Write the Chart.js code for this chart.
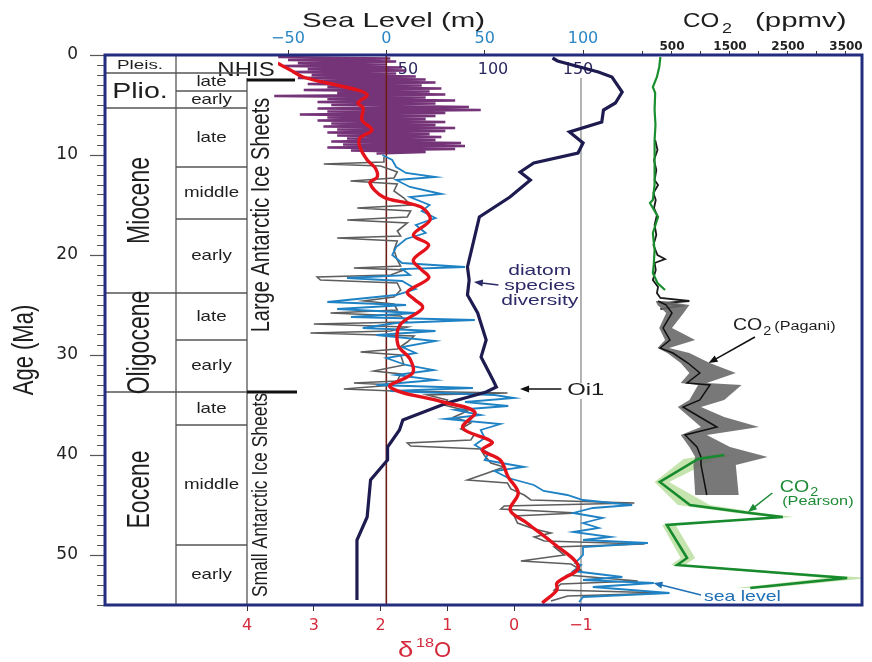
<!DOCTYPE html>
<html>
<head>
<meta charset="utf-8">
<script src="https://cdn.jsdelivr.net/npm/chart.js@4.4.1/dist/chart.umd.min.js"></script>
<style>
    html, body { margin: 0; padding: 0; background: #fff; }
    #wrap { width: 872px; height: 662px; }
</style>
</head>
<body>
<div id="wrap"><canvas id="chartCenozoic" width="872" height="662"></canvas></div>
<script>
// ---- data (age in Ma) ----
var d18Age = [0.5, 0.8, 1.5, 2.2, 2.8, 3.5, 4.0, 4.8, 5.3, 6.5, 7.5, 8.3, 9.2, 10.5, 11.3, 12.2, 12.8, 14.2, 14.8, 15.3,
    16.5, 18.0, 19.0, 20.5, 21.4, 22.3, 23.7, 24.4, 25.3, 27.0, 29.0, 30.4, 31.8, 33.2, 34.7, 35.7, 37.3, 38.7, 39.5, 40.5,
    42.2, 43.8, 45.5, 46.8, 48.8, 51.2, 52.8, 53.5, 54.8];
var d18Smooth = [3.65, 3.55, 3.35, 3.16, 2.80, 2.35, 2.20, 2.34, 2.26, 2.28, 2.13, 2.31, 2.31, 2.20, 2.08, 2.05, 2.16, 1.96, 1.60, 1.37,
    1.26, 1.51, 1.28, 1.51, 1.40, 1.28, 1.60, 1.50, 1.37, 1.71, 1.74, 1.56, 1.52, 1.86, 1.07, 0.59, 0.77, 0.33, 0.48, 0.21,
    0.09, -0.06, 0.06, -0.19, -0.58, -0.96, -0.64, -0.64, -0.42];

var rawAge = [10.2, 10.7, 10.9, 11.1, 11.7, 12.3, 12.6, 12.9, 13.6, 14.3, 15.0, 15.3, 15.6, 16.2, 16.5, 16.8, 17.6, 18.1, 18.3, 18.6,
    19.5, 20.5, 21.1, 21.3, 21.5, 22.0, 22.2, 22.5, 22.8, 23.5, 24.2, 24.6, 24.9, 25.5, 25.8, 26.1, 26.7, 26.9, 27.2, 27.6,
    27.8, 28.1, 28.7, 29.4, 29.7, 30.0, 31.0, 31.6, 31.9, 32.6, 32.8, 33.0, 33.4, 33.6, 33.8, 34.0, 34.5, 35.0, 35.6, 36.2,
    36.8, 37.4, 38.0, 38.5, 38.8, 39.1, 39.4, 40.0, 40.8, 41.2, 41.8, 42.5, 42.8, 43.4, 44.0, 44.5, 44.8, 45.1, 45.4, 45.8,
    46.1, 46.8, 47.4, 47.8, 48.2, 48.6, 48.9, 49.2, 50.0, 50.6, 50.9, 51.5, 52.0, 52.6, 52.9, 53.5, 53.8, 54.1, 54.6];
var rawD18 = [1.95, 1.95, 2.85, 2.00, 1.75, 1.80, 2.45, 1.75, 1.80, 1.65, 1.55, 2.35, 1.55, 1.60, 2.50, 1.60, 1.75, 1.70, 2.65, 1.75,
    1.80, 1.75, 1.70, 2.40, 1.65, 1.85, 2.95, 2.90, 1.75, 1.70, 1.80, 2.25, 1.80, 1.75, 2.75, 1.70, 1.60, 3.00, 1.60, 1.85,
    3.05, 1.50, 1.60, 1.75, 2.30, 1.70, 1.65, 2.10, 1.70, 1.75, 2.40, 1.80, 2.55, 1.80, 0.10, 1.30, 1.00, 1.05, 0.70, 0.90,
    0.65, 0.80, 0.60, 0.65, 1.60, 1.55, 0.50, 0.45, 0.35, 0.15, 0.40, 0.70, 0.10, 0.05, -0.15, -0.25, -1.80, 0.15, 0.20, -0.95,
    0.00, -0.05, -0.30, -0.55, -0.30, -0.45, -1.95, -0.60, -0.75, -0.10, -0.85, -1.00, -0.80, -1.85, -0.70, -0.60, -2.30, -0.80, -0.55];

var seaAge = [10.0, 10.5, 11.2, 11.8, 12.2, 12.5, 13.2, 13.9, 14.2, 15.0, 15.6, 16.3, 17.0, 17.8, 18.4, 19.2, 20.0, 20.8, 21.2, 21.4,
    22.0, 22.3, 22.6, 23.4, 24.0, 24.7, 25.0, 25.4, 25.8, 26.2, 26.5, 26.8, 27.3, 27.6, 28.0, 28.6, 29.2, 29.8, 30.3, 31.0,
    31.5, 32.0, 32.5, 33.0, 33.3, 33.6, 34.0, 34.3, 34.7, 35.1, 35.5, 36.0, 36.4, 36.9, 37.5, 38.3, 39.0, 39.8, 40.5, 41.2,
    41.6, 42.3, 43.0, 43.6, 44.0, 44.5, 45.0, 45.3, 45.8, 46.3, 46.8, 47.3, 47.7, 48.2, 48.5, 48.8, 49.2, 50.0, 50.8, 51.0,
    51.6, 52.2, 52.5, 52.8, 53.2, 53.8, 54.2, 54.7];
var seaLevel = [-2, 3, 5, 10, 25, 5, 12, 28, 12, 22, 18, 25, 15, 20, 10, 5, 3, 8, 40, 8,
    12, -20, 8, 15, 5, -30, 10, -25, 15, -18, 45, 5, -12, 25, -5, 25, 8, 15, 0, 10,
    24, 5, 25, -5, 44, 2, 55, 65, 40, 62, 35, 48, 30, 58, 48, 50, 45, 52, 50, 70,
    55, 62, 75, 80, 92, 100, 125, 105, 95, 110, 100, 108, 95, 114, 100, 133, 100, 100, 96, 99,
    95, 120, 100, 136, 105, 144, 100, 98];

var purpleAge = [0.2, 0.35, 0.5, 0.65, 0.8, 0.95, 1.1, 1.25, 1.4, 1.55, 1.7, 1.85, 2.0, 2.15, 2.3, 2.45, 2.6, 2.75, 2.9, 3.05,
    3.2, 3.35, 3.5, 3.65, 3.8, 3.95, 4.1, 4.25, 4.4, 4.55, 4.7, 4.85, 5.0, 5.2, 5.35, 5.5, 5.65, 5.8, 5.95, 6.1,
    6.25, 6.4, 6.55, 6.7, 6.85, 7.0, 7.15, 7.3, 7.45, 7.6, 7.75, 7.9, 8.05, 8.2, 8.35, 8.5, 8.65, 8.8, 8.95, 9.1,
    9.25, 9.4, 9.55, 9.7, 9.85];
var purpleLevel = [-55, 2, -50, 5, -45, 0, -52, 8, -40, 10, -48, 5, -38, 15, -45, 20, -35, 25, -40, 18,
    -30, 28, -42, 22, -25, 30, -57, 20, -30, 35, -35, 25, -28, 42, -35, 48, -30, 30, -44, 25,
    -30, 20, -35, 30, -28, 25, -32, 35, -25, 30, -30, 22, -25, 28, -20, 25, -28, 38, -22, 40,
    -30, 35, -18, 20, -5];

var diatomAge = [0.3, 0.6, 1.7, 2.2, 3.7, 4.8, 5.5, 6.7, 7.7, 8.8, 9.8, 10.8, 11.7, 12.5, 14.2, 16.2, 21.2, 22.5, 24.0, 25.8,
    28.5, 30.2, 32.5, 33.2, 33.7, 34.8, 36.5, 37.5, 39.2, 40.5, 42.5, 46.2, 48.5, 54.5];
var diatomCount = [135, 138, 162, 170, 176, 172, 165, 164, 145, 153, 150, 124, 116, 122, 110, 92, 85, 86, 85, 91,
    96, 93, 100, 102, 96, 73, 47, 45, 38, 38, 28, 26, 20, 20];

var paganiAge = [24.6, 25.0, 25.8, 27.3, 28.5, 29.3, 29.8, 30.8, 31.8, 32.8, 33.0, 34.5, 35.2, 36.2, 37.2, 38.0, 39.2, 40.2, 41.0, 44.0];
var paganiCO2 = [260, 400, 500, 345, 465, 295, 515, 775, 980, 760, 1155, 980, 690, 980, 1275, 725, 930, 1000, 1000, 1100];
var paganiHigh = [350, 800, 700, 500, 900, 450, 800, 1150, 1600, 1100, 1700, 1400, 1000, 1400, 2000, 1100, 1500, 2150, 1600, 1650];
var paganiLow = [220, 250, 400, 280, 380, 250, 420, 650, 800, 650, 950, 800, 600, 800, 1000, 650, 800, 900, 870, 900];

var pearsonAge = [40.0, 40.4, 42.7, 45.0, 45.8, 46.2, 47.0, 50.3, 51.0, 52.3, 53.3];
var pearsonCO2 = [1400, 950, 290, 810, 1840, 2410, 410, 760, 590, 3520, 1850];
var pearsonHigh = [1650, 1250, 450, 1150, 2050, 2600, 560, 900, 720, 3900, 2150];
var pearsonLow = [1150, 700, 200, 600, 1600, 2250, 330, 650, 480, 3150, 1600];

var recentAge = [0.2, 1.2, 2.2, 3.2, 3.8, 5.5, 7.0, 8.5, 10.0, 11.5, 13.0, 14.5, 14.8, 16.2, 17.8, 19.5, 21.0, 21.8, 22.8, 23.5];
var recentCO2 = [300, 280, 240, 170, 210, 200, 215, 200, 205, 190, 205, 170, 120, 260, 170, 200, 185, 170, 250, 380];
var noiseAge = [8.5, 9.5, 10.5, 11.5, 12.5, 13.0, 13.8, 14.5, 15.3, 16.0, 17.0, 18.0, 19.0, 20.0, 20.4, 20.8, 21.5, 22.5, 23.2, 23.8,
    24.3, 24.6, 24.8, 25.1, 25.4];
var noiseCO2 = [210, 250, 190, 230, 200, 260, 180, 220, 190, 240, 200, 230, 180, 250, 380, 200, 220, 170, 260, 240,
    300, 800, 350, 650, 300];

var refLineAge = [0, 55];
var dashLineAge = [2.3, 32.8, 33.5, 34.4, 55];

// ---- ticks / timescale ----
var d18Ticks = [4, 3, 2, 1, 0, -1];
var seaTicks = [-50, 0, 50, 100];
var diatomTicks = [50, 100, 150];
var co2Ticks = [0, 500, 1000, 1500, 2000, 2500, 3000, 3500];
var co2Labels = [500, 1500, 2500, 3500];

var epochNames = ['Pleis.', 'Plio.', 'Miocene', 'Oligocene', 'Eocene'];
var epochTop = [0, 1.8, 5.3, 23.8, 33.7];
var epochBase = [1.8, 5.3, 23.8, 33.7, 55];
var stageNames = ['late', 'early', 'late', 'middle', 'early', 'late', 'early', 'late', 'middle', 'early'];
var stageTop = [1.8, 3.6, 5.3, 11.2, 16.4, 23.8, 28.5, 33.7, 37.0, 49.0];
var stageBase = [3.6, 5.3, 11.2, 16.4, 23.8, 28.5, 33.7, 37.0, 49.0, 55];

var SANS = '"Liberation Sans", Arial, sans-serif';

function pts(ages, vals) {
    return ages.map(function (a, i) { return { x: vals[i], y: a }; });
}

function drawText(ctx, str, x, y, o) {
    ctx.save();
    ctx.font = o.font;
    ctx.fillStyle = o.color || '#1e1e1e';
    ctx.textAlign = o.align || 'center';
    ctx.textBaseline = o.base || 'middle';
    ctx.translate(x, y);
    if (o.rot) {
        ctx.rotate(o.rot);
        ctx.scale(1, o.sx || 1);
    } else {
        ctx.scale(o.sx || 1, 1);
    }
    ctx.fillText(str, 0, 0);
    ctx.restore();
}

function arrow(ctx, x1, y1, x2, y2, color) {
    var ang = Math.atan2(y2 - y1, x2 - x1);
    ctx.save();
    ctx.strokeStyle = color;
    ctx.fillStyle = color;
    ctx.lineWidth = 1.5;
    ctx.beginPath();
    ctx.moveTo(x1, y1);
    ctx.lineTo(x2 - 6 * Math.cos(ang), y2 - 6 * Math.sin(ang));
    ctx.stroke();
    ctx.beginPath();
    ctx.moveTo(x2, y2);
    ctx.lineTo(x2 - 9 * Math.cos(ang) + 3.5 * Math.sin(ang), y2 - 9 * Math.sin(ang) - 3.5 * Math.cos(ang));
    ctx.lineTo(x2 - 9 * Math.cos(ang) - 3.5 * Math.sin(ang), y2 - 9 * Math.sin(ang) + 3.5 * Math.cos(ang));
    ctx.closePath();
    ctx.fill();
    ctx.restore();
}

function hline(ctx, x1, x2, y, w, c) {
    ctx.beginPath();
    ctx.strokeStyle = c;
    ctx.lineWidth = w;
    ctx.moveTo(x1, y);
    ctx.lineTo(x2, y);
    ctx.stroke();
}

function vline(ctx, x, y1, y2, w, c) {
    ctx.beginPath();
    ctx.strokeStyle = c;
    ctx.lineWidth = w;
    ctx.moveTo(x, y1);
    ctx.lineTo(x, y2);
    ctx.stroke();
}

var decorPlugin = {
    id: 'decor',
    afterDraw: function (chart) {
        var ctx = chart.ctx, a = chart.chartArea, s = chart.scales;
        var Y = function (v) { return s.y.getPixelForValue(v); };
        var SL = function (v) { return s.sl.getPixelForValue(v); };
        var C2 = function (v) { return s.co2.getPixelForValue(v); };
        var col0 = a.left, col1 = a.left + 71, col2 = s.d18.getPixelForValue(4);
        var i;

        // NHIS label box
        ctx.fillStyle = '#fff';
        ctx.fillRect(col1 + 38, a.top + 1, 64, Y(2.1) - a.top - 1);
        drawText(ctx, 'NHIS', col1 + 70, Y(2.05), { font: '20px ' + SANS, base: 'alphabetic', sx: 1.2 });

        // geologic timescale grid
        ctx.save();
        vline(ctx, col1, a.top, a.bottom, 1.3, '#555');
        vline(ctx, col2, Y(2.3), a.bottom, 1.3, '#555');
        for (i = 0; i < epochBase.length - 1; i++) {
            hline(ctx, col0, col2, Y(epochBase[i]), 1.3, '#555');
        }
        for (i = 0; i < stageTop.length; i++) {
            if (epochTop.indexOf(stageTop[i]) < 0) hline(ctx, col1, col2, Y(stageTop[i]), 1.3, '#555');
        }
        hline(ctx, col2, col2 + 48, Y(2.5), 3, '#111');
        hline(ctx, col2, col2 + 50, Y(33.7), 3, '#111');
        ctx.restore();

        // epoch and stage names
        for (i = 0; i < epochNames.length; i++) {
            var ym = Y((epochTop[i] + epochBase[i]) / 2);
            if (i === 0) {
                drawText(ctx, epochNames[i], col0 + 35, ym + 1, { font: '13px ' + SANS, sx: 1.45 });
            } else if (i === 1) {
                drawText(ctx, epochNames[i], col0 + 35, ym + 1, { font: '22px ' + SANS, sx: 1.3 });
            } else {
                var shift = (i === 4) ? -9 : 0;
                drawText(ctx, epochNames[i], col0 + 35, ym + shift, { font: '23px ' + SANS, sx: 1.4, rot: -Math.PI / 2 });
            }
        }
        for (i = 0; i < stageNames.length; i++) {
            drawText(ctx, stageNames[i], (col1 + col2) / 2, Y((stageTop[i] + stageBase[i]) / 2),
                { font: '15px ' + SANS, sx: 1.25 });
        }
        drawText(ctx, 'Large Antarctic Ice Sheets', col2 + 15, Y(16.0), { font: '20px ' + SANS, sx: 1.3, rot: -Math.PI / 2 });
        drawText(ctx, 'Small Antarctic Ice Sheets', col2 + 14, Y(44.0), { font: '17.5px ' + SANS, sx: 1.3, rot: -Math.PI / 2 });

        // annotations
        var navy = '#2c2a66';
        drawText(ctx, 'diatom', SL(78), Y(21.6), { font: '15px ' + SANS, color: navy, sx: 1.4 });
        drawText(ctx, 'species', SL(78), Y(23.1), { font: '15px ' + SANS, color: navy, sx: 1.4 });
        drawText(ctx, 'diversity', SL(78), Y(24.6), { font: '15px ' + SANS, color: navy, sx: 1.4 });
        arrow(ctx, SL(57), Y(23.0), SL(44.5), Y(22.7), navy);

        drawText(ctx, 'Oi1', SL(92), Y(33.5), { font: '17px ' + SANS, align: 'left', sx: 1.4 });
        arrow(ctx, SL(89), Y(33.4), SL(68), Y(33.4), '#111');

        var blue = '#1f6fb5';
        drawText(ctx, 'sea level', C2(1050), Y(54.2), { font: '15px ' + SANS, color: blue, align: 'left', sx: 1.3 });
        arrow(ctx, C2(1000), Y(54.0), C2(180), Y(52.8), blue);

        // CO2 (Pagani)
        var px = C2(1550), py = Y(27.5);
        ctx.font = '17px ' + SANS;
        drawText(ctx, 'CO', px, py, { font: '17px ' + SANS, align: 'left', base: 'alphabetic', sx: 1.15 });
        var cw = ctx.measureText('CO').width * 1.15;
        drawText(ctx, '2', px + cw + 1, py + 5, { font: '12px ' + SANS, align: 'left', base: 'alphabetic', sx: 1.2 });
        drawText(ctx, '(Pagani)', px + cw + 12, py, { font: '12.5px ' + SANS, align: 'left', base: 'alphabetic', sx: 1.3 });
        arrow(ctx, C2(1930), Y(28.2), C2(1130), Y(30.8), '#111');

        // CO2 (Pearson)
        var green = '#1d8a35';
        var qx = C2(2360), qy = Y(43.7);
        drawText(ctx, 'CO', qx, qy, { font: '17px ' + SANS, color: green, align: 'left', base: 'alphabetic', sx: 1.15 });
        drawText(ctx, '2', qx + cw + 1, qy + 4, { font: '12px ' + SANS, color: green, align: 'left', base: 'alphabetic', sx: 1.2 });
        drawText(ctx, '(Pearson)', C2(2400), Y(45.0), { font: '12.5px ' + SANS, color: green, align: 'left', base: 'alphabetic', sx: 1.3 });
        arrow(ctx, C2(2230), Y(43.8), C2(1810), Y(45.7), green);

        // axis titles
        drawText(ctx, 'Sea Level (m)', 302, 27, { font: '21px ' + SANS, align: 'left', base: 'alphabetic', sx: 1.4 });
        drawText(ctx, 'CO', 683, 27, { font: '21px ' + SANS, align: 'left', base: 'alphabetic', sx: 1.15 });
        drawText(ctx, '2', 722, 33, { font: '15px ' + SANS, align: 'left', base: 'alphabetic', sx: 1.2 });
        drawText(ctx, '(ppmv)', 755, 27, { font: '21px ' + SANS, align: 'left', base: 'alphabetic', sx: 1.4 });
        var red = '#d42b3c';
        drawText(ctx, '\u03b4', 398, 657, { font: '22px ' + SANS, color: red, align: 'left', base: 'alphabetic', sx: 1.25 });
        drawText(ctx, '18', 416, 647, { font: '13px ' + SANS, color: red, align: 'left', base: 'alphabetic', sx: 1.25 });
        drawText(ctx, 'O', 434, 657, { font: '22px ' + SANS, color: red, align: 'left', base: 'alphabetic', sx: 1.0 });
        drawText(ctx, 'Age (Ma)', 25, 350, { font: '22px ' + SANS, sx: 1.35, rot: -Math.PI / 2 });

        // frame
        ctx.save();
        ctx.strokeStyle = '#232d7d';
        ctx.lineWidth = 3;
        ctx.strokeRect(a.left, a.top, a.right - a.left, a.bottom - a.top);
        ctx.restore();
    }
};

function lineSet(ages, vals, axis, color, width, extra) {
    var d = {
        data: pts(ages, vals),
        xAxisID: axis,
        yAxisID: 'y',
        borderColor: color,
        borderWidth: width,
        pointRadius: 0,
        fill: false,
        tension: 0
    };
    for (var k in extra) d[k] = extra[k];
    return d;
}

function fixedTicks(list) {
    return function (scale) {
        scale.ticks = list.map(function (v) { return { value: v }; });
    };
}

var ageTicks = [];
for (var t = 0; t <= 55; t++) ageTicks.push(t);

function minusLabel(v) {
    return v < 0 ? '\u2212' + Math.abs(v) : String(v);
}

Chart.defaults.font.family = '"DejaVu Sans", sans-serif';

var chartCenozoic = new Chart(document.getElementById('chartCenozoic').getContext('2d'), {
    type: 'line',
    data: {
        datasets: [
            lineSet(d18Age, d18Smooth, 'd18', '#e3121b', 3.4, { tension: 0.35 }),
            lineSet(diatomAge, diatomCount, 'dia', '#1d1b4f', 3.2),
            lineSet(seaAge, seaLevel, 'sl', '#1f82c4', 1.8),
            lineSet(rawAge, rawD18, 'd18', '#5e5e5e', 1.6),
            lineSet(refLineAge, [0, 0], 'sl', '#6e1c16', 1.6),
            lineSet(dashLineAge, [-1, -1, NaN, -1, -1], 'd18', '#8c8c8c', 1.3),
            lineSet(purpleAge, purpleLevel, 'sl', 'rgba(94,18,98,0.86)', 2.3),
            lineSet(pearsonAge, pearsonCO2, 'co2', '#178a2e', 2.6),
            lineSet(paganiAge, paganiCO2, 'co2', '#111', 1.5),
            lineSet(paganiAge, paganiHigh, 'co2', 'rgba(0,0,0,0)', 0, { fill: '+1', backgroundColor: 'rgba(105,105,105,0.9)' }),
            lineSet(paganiAge, paganiLow, 'co2', 'rgba(0,0,0,0)', 0),
            lineSet(pearsonAge, pearsonHigh, 'co2', 'rgba(0,0,0,0)', 0, { fill: '+1', backgroundColor: 'rgba(160,210,120,0.6)' }),
            lineSet(pearsonAge, pearsonLow, 'co2', 'rgba(0,0,0,0)', 0),
            lineSet(recentAge, recentCO2, 'co2', '#1a8f2e', 2.2),
            lineSet(noiseAge, noiseCO2, 'co2', '#1a1a1a', 1.8)
        ]
    },
    options: {
        responsive: false,
        animation: false,
        indexAxis: 'y',
        layout: { padding: { left: 0, right: 10, top: 0, bottom: 0 }, autoPadding: false },
        plugins: { legend: { display: false }, tooltip: { enabled: false } },
        scales: {
            y: {
                type: 'linear', position: 'left', reverse: true, min: 0, max: 55,
                afterBuildTicks: fixedTicks(ageTicks),
                afterFit: function (scale) { scale.width = 105; },
                ticks: {
                    autoSkip: false, padding: 12, color: '#222',
                    font: { size: 17 },
                    callback: function (v) { return v % 10 === 0 ? String(v) : ''; }
                },
                grid: {
                    drawOnChartArea: false, tickLength: 15, tickColor: '#555', tickWidth: 1.2,
                    tickBorderDash: function (c) { return (c.tick && c.tick.value % 10 === 0) ? [] : [0, 7, 8, 100]; }
                },
                border: { display: false }
            },
            d18: {
                type: 'linear', position: 'bottom', reverse: true, min: -5.207, max: 6.126,
                afterBuildTicks: fixedTicks(d18Ticks),
                afterFit: function (scale) { scale.height = 57; },
                ticks: { autoSkip: false, maxRotation: 0, padding: 5, color: '#d42b3c', font: { size: 16 }, callback: minusLabel },
                grid: { drawOnChartArea: false, tickLength: 6, tickColor: '#333' },
                border: { display: false }
            },
            sl: {
                type: 'linear', position: 'top', weight: 10, min: -143.05, max: 241.86,
                afterBuildTicks: fixedTicks(seaTicks),
                afterFit: function (scale) { scale.height = 55; },
                ticks: { autoSkip: false, maxRotation: 0, padding: 2, color: '#2b86c4', font: { size: 16 }, callback: minusLabel },
                grid: { drawOnChartArea: false, tickLength: 5, tickColor: '#333' },
                border: { display: false }
            },
            co2: {
                type: 'linear', position: 'top', weight: 2, min: -9276, max: 3776,
                afterBuildTicks: fixedTicks(co2Ticks),
                afterFit: function (scale) { scale.height = 0; },
                ticks: {
                    autoSkip: false, maxRotation: 0, mirror: true, padding: -15, color: '#222',
                    font: { size: 12, weight: 'bold' },
                    callback: function (v) { return co2Labels.indexOf(v) >= 0 ? String(v) : ''; }
                },
                grid: { drawOnChartArea: false, tickLength: 4, tickColor: '#333' },
                border: { display: false }
            },
            dia: {
                type: 'linear', position: 'top', weight: 1, z: 1, min: -128.2, max: 317.06,
                afterBuildTicks: fixedTicks(diatomTicks),
                afterFit: function (scale) { scale.height = 0; },
                ticks: {
                    autoSkip: false, maxRotation: 0, mirror: true, padding: 5, color: '#2a285e',
                    font: { size: 16 },
                    showLabelBackdrop: true, backdropColor: '#ffffff', backdropPadding: 1
                },
                grid: { display: false, drawTicks: false },
                border: { display: false }
            }
        }
    },
    plugins: [decorPlugin]
});
</script>
</body>
</html>
